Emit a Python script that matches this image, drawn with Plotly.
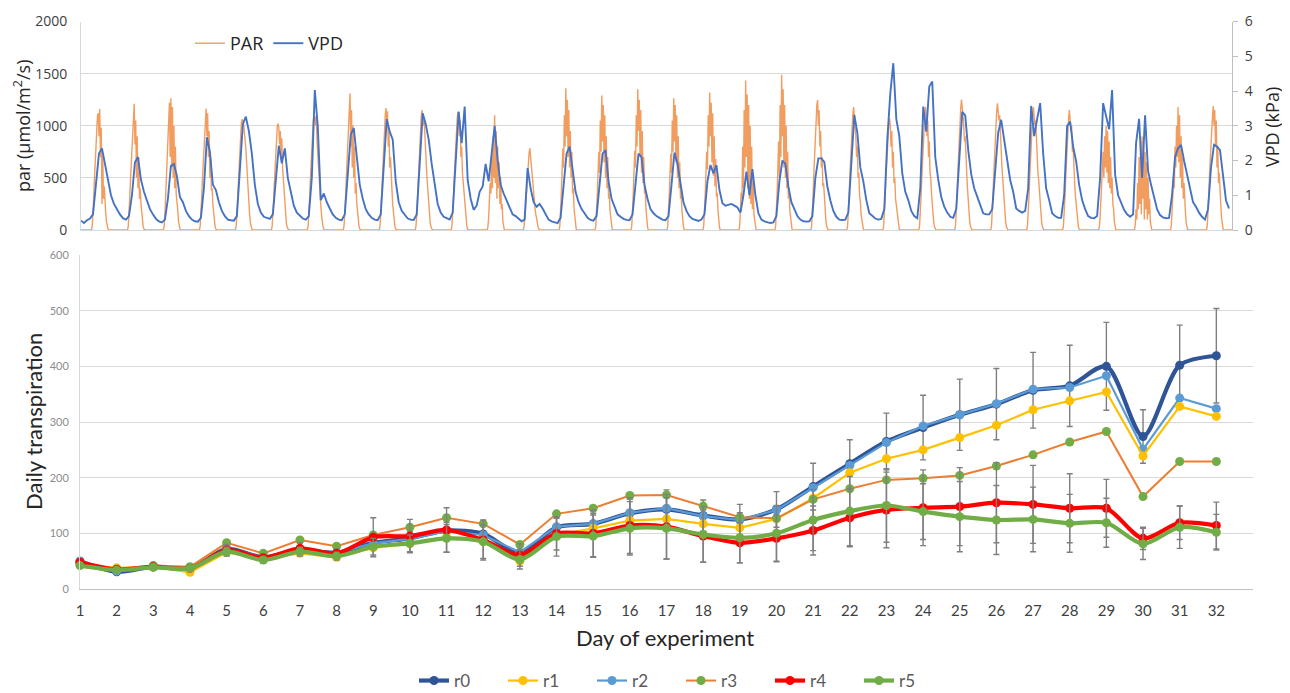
import plotly.graph_objects as go

# page body has an 8px default margin; the figure is sized to fit the 1290x693 window
OFF = 8
W, H = 1290 - OFF, 693 - OFF

# ---------------- bottom panel data ----------------
days = list(range(1, 33))
day_labels = [str(d) for d in days]

r0 = [50, 31, 40, 36, 72, 57, 70, 65, 83, 91, 105, 99, 65, 111, 117, 136, 143, 132, 125, 143,
      184, 225, 265, 290, 313, 332, 357, 365, 400, 274, 402, 419]
r1 = [44, 38, 40, 30, 66, 53, 64, 57, 74, 81, 93, 85, 50, 97, 109, 123, 126, 117, 110, 126,
      163, 209, 234, 250, 272, 294, 322, 338, 354, 239, 328, 310]
r2 = [50, 32, 40, 37, 73, 57, 70, 65, 82, 90, 104, 97, 66, 112, 117, 137, 145, 131, 124, 142,
      182, 222, 263, 293, 313, 333, 359, 362, 383, 251, 343, 324]
r3 = [45, 36, 42, 40, 83, 64, 88, 77, 97, 111, 128, 117, 80, 135, 145, 168, 169, 149, 129, 127,
      161, 180, 196, 199, 204, 221, 241, 264, 283, 166, 229, 229]
r4 = [48, 35, 40, 37, 70, 56, 73, 64, 93, 95, 106, 88, 61, 100, 100, 114, 112, 95, 83, 91,
      105, 128, 142, 146, 148, 155, 152, 145, 145, 91, 119, 114]
r5 = [42, 34, 39, 37, 67, 52, 67, 59, 76, 82, 91, 85, 53, 94, 95, 109, 109, 98, 92, 100,
      124, 140, 150, 139, 130, 124, 125, 118, 119, 81, 111, 102]

r0_err = [6, 4, 4, 4, 8, 6, 8, 7, 12, 12, 15, 16, 10, 16, 19, 25, 35, 28, 27, 32,
          42, 43, 51, 58, 64, 64, 68, 73, 79, 48, 72, 85]
r4_err = [6, 4, 4, 5, 10, 6, 10, 8, 35, 30, 40, 36, 20, 30, 42, 50, 58, 47, 36, 42,
          44, 52, 68, 68, 70, 72, 70, 62, 52, 20, 30, 42]
r5_err = [5, 4, 4, 4, 8, 6, 8, 7, 15, 15, 25, 30, 17, 35, 38, 48, 55, 50, 45, 50,
          55, 62, 66, 50, 63, 62, 58, 52, 44, 28, 38, 32]

# ---------------- top panel data ----------------
# PAR (umol/m2/s), half-hourly from 07:00 to 19:00 for each day (0 at night)
par_hours = [7.0, 7.5, 8.0, 8.5, 9.0, 9.5, 10.0, 10.5, 11.0, 11.5, 12.0, 12.5, 13.0,
             13.5, 14.0, 14.5, 15.0, 15.5, 16.0, 16.5, 17.0, 17.5, 18.0, 18.5, 19.0]
par_by_day = [
    [0, 35, 140, 310, 500, 680, 850, 1000, 1100, 1120, 900, 1160, 700, 980, 250, 720, 300, 420, 230, 160, 80, 35, 10, 0, 0],
    [0, 30, 130, 300, 470, 640, 800, 950, 1080, 1210, 820, 1050, 500, 900, 400, 700, 300, 400, 250, 150, 80, 30, 10, 0, 0],
    [0, 40, 150, 320, 520, 700, 900, 1100, 1220, 700, 1264, 600, 1180, 500, 1000, 400, 800, 350, 300, 200, 90, 40, 10, 0, 0],
    [0, 35, 140, 300, 480, 650, 820, 960, 1080, 1165, 900, 1120, 700, 950, 500, 700, 380, 400, 240, 140, 70, 30, 10, 0, 0],
    [0, 35, 140, 310, 500, 680, 830, 950, 1030, 1060, 1050, 1020, 960, 880, 780, 650, 500, 370, 250, 150, 70, 30, 10, 0, 0],
    [0, 30, 120, 270, 440, 600, 760, 900, 1000, 1020, 980, 820, 950, 700, 880, 600, 480, 350, 230, 140, 70, 30, 10, 0, 0],
    [0, 30, 130, 290, 470, 640, 800, 950, 1050, 1100, 1080, 1000, 1090, 850, 700, 600, 480, 350, 240, 140, 70, 30, 10, 0, 0],
    [0, 40, 150, 330, 530, 720, 900, 1060, 1200, 1310, 800, 1150, 600, 1000, 500, 800, 350, 450, 260, 160, 80, 35, 10, 0, 0],
    [0, 35, 140, 310, 500, 680, 850, 990, 1100, 1170, 1050, 1140, 800, 950, 600, 700, 420, 380, 240, 140, 70, 30, 10, 0, 0],
    [0, 35, 140, 310, 500, 680, 840, 980, 1080, 1150, 1100, 1000, 1050, 850, 700, 600, 470, 350, 240, 140, 70, 30, 10, 0, 0],
    [0, 35, 140, 300, 490, 670, 830, 970, 1070, 1130, 1080, 900, 1050, 700, 800, 550, 450, 330, 230, 130, 70, 30, 10, 0, 0],
    [0, 30, 120, 280, 450, 350, 700, 400, 900, 500, 1100, 450, 950, 300, 800, 400, 650, 250, 500, 200, 250, 80, 30, 0, 0],
    [0, 20, 80, 180, 300, 420, 550, 660, 740, 784, 700, 600, 520, 400, 350, 250, 200, 150, 100, 60, 30, 10, 0, 0, 0],
    [0, 40, 160, 350, 560, 780, 600, 1100, 800, 1360, 900, 1250, 700, 1150, 600, 950, 500, 750, 350, 400, 200, 100, 30, 0, 0],
    [0, 40, 150, 340, 540, 750, 550, 1050, 750, 1290, 850, 1200, 650, 1100, 500, 900, 400, 700, 300, 350, 180, 90, 30, 0, 0],
    [0, 40, 160, 350, 560, 760, 600, 1100, 800, 1350, 950, 1250, 700, 1150, 550, 950, 450, 700, 350, 380, 200, 90, 30, 0, 0],
    [0, 40, 150, 330, 530, 730, 550, 1050, 750, 1264, 850, 1200, 650, 1100, 500, 900, 400, 650, 300, 350, 180, 80, 30, 0, 0],
    [0, 40, 150, 340, 550, 750, 580, 1100, 800, 1318, 900, 1220, 650, 1120, 520, 900, 420, 680, 320, 360, 190, 90, 30, 0, 0],
    [0, 40, 160, 360, 300, 800, 400, 1150, 600, 1434, 700, 1300, 400, 1200, 300, 1000, 250, 800, 200, 500, 150, 100, 30, 0, 0],
    [0, 40, 160, 370, 600, 850, 500, 1200, 700, 1490, 900, 1350, 600, 1200, 500, 1000, 400, 750, 300, 400, 180, 90, 30, 0, 0],
    [0, 40, 150, 340, 550, 750, 900, 1100, 1200, 1248, 1000, 1150, 800, 950, 600, 700, 420, 450, 280, 200, 100, 40, 10, 0, 0],
    [0, 35, 140, 320, 510, 690, 860, 1000, 1110, 1180, 1100, 1000, 900, 700, 800, 500, 550, 330, 280, 150, 80, 30, 10, 0, 0],
    [0, 30, 130, 290, 470, 640, 800, 930, 1030, 1070, 1000, 800, 950, 600, 750, 450, 500, 300, 240, 140, 70, 30, 10, 0, 0],
    [0, 35, 140, 310, 500, 680, 850, 1000, 1100, 1180, 1100, 900, 1050, 700, 850, 550, 500, 350, 240, 140, 70, 30, 10, 0, 0],
    [0, 40, 150, 330, 530, 720, 900, 1050, 1170, 1250, 1200, 1100, 1000, 850, 900, 600, 550, 400, 260, 150, 80, 35, 10, 0, 0],
    [0, 35, 140, 320, 520, 700, 880, 1030, 1140, 1215, 1150, 1050, 1100, 850, 800, 600, 500, 380, 250, 150, 70, 30, 10, 0, 0],
    [0, 35, 140, 310, 500, 690, 860, 1000, 1110, 1180, 1120, 1000, 1050, 800, 750, 550, 480, 350, 240, 140, 70, 30, 10, 0, 0],
    [0, 35, 140, 300, 490, 670, 840, 980, 1080, 1150, 1050, 950, 1000, 750, 800, 500, 450, 330, 230, 130, 70, 30, 10, 0, 0],
    [0, 30, 120, 270, 430, 600, 750, 500, 900, 600, 1000, 550, 950, 450, 850, 400, 700, 350, 500, 250, 200, 80, 30, 0, 0],
    [0, 60, 200, 100, 450, 200, 700, 250, 850, 150, 900, 300, 800, 100, 750, 200, 650, 100, 500, 150, 300, 80, 30, 0, 0],
    [0, 40, 150, 330, 500, 400, 800, 600, 1000, 700, 1180, 650, 1100, 500, 900, 400, 700, 300, 450, 200, 150, 60, 20, 0, 0],
    [0, 40, 150, 330, 530, 720, 880, 1000, 1100, 1190, 1000, 1150, 800, 1050, 600, 800, 450, 550, 300, 250, 120, 50, 15, 0, 0],
]

# VPD (kPa), every two hours (00:00 ... 22:00) for each day
vpd_hours = [0, 2, 4, 6, 8, 10, 12, 14, 16, 18, 20, 22]
vpd_by_day = [
    [0.27, 0.20, 0.28, 0.33, 0.45, 1.30, 2.20, 2.35, 1.90, 1.45, 1.00, 0.75],
    [0.58, 0.45, 0.34, 0.30, 0.40, 1.00, 1.95, 2.10, 1.45, 1.10, 0.85, 0.60],
    [0.45, 0.32, 0.25, 0.22, 0.30, 0.90, 1.85, 1.90, 1.55, 0.95, 0.80, 0.55],
    [0.40, 0.30, 0.25, 0.24, 0.35, 1.20, 2.67, 2.25, 1.30, 1.15, 0.80, 0.55],
    [0.40, 0.30, 0.28, 0.27, 0.40, 1.60, 3.05, 3.26, 2.85, 2.20, 1.30, 0.75],
    [0.50, 0.38, 0.34, 0.32, 0.45, 1.40, 2.43, 1.92, 2.35, 1.50, 1.05, 0.70],
    [0.50, 0.40, 0.33, 0.30, 0.40, 1.50, 4.03, 2.98, 0.86, 1.05, 0.80, 0.62],
    [0.45, 0.35, 0.30, 0.28, 0.45, 1.60, 2.75, 2.93, 2.20, 1.30, 0.90, 0.60],
    [0.45, 0.35, 0.30, 0.28, 0.45, 1.70, 3.19, 2.83, 2.60, 1.40, 0.80, 0.55],
    [0.43, 0.33, 0.30, 0.29, 0.45, 1.80, 3.36, 3.05, 2.60, 1.90, 1.25, 0.75],
    [0.50, 0.38, 0.34, 0.30, 0.50, 1.90, 3.41, 2.50, 3.55, 1.44, 0.90, 0.58],
    [0.70, 1.10, 1.25, 1.90, 1.40, 2.20, 3.00, 2.00, 1.30, 1.05, 0.85, 0.67],
    [0.45, 0.40, 0.32, 0.25, 0.30, 1.78, 1.20, 0.80, 0.67, 0.75, 0.62, 0.45],
    [0.30, 0.25, 0.22, 0.20, 0.35, 1.30, 2.20, 2.40, 1.70, 1.10, 0.80, 0.60],
    [0.48, 0.35, 0.29, 0.27, 0.40, 1.30, 2.20, 2.30, 1.40, 0.90, 0.65, 0.45],
    [0.38, 0.32, 0.29, 0.28, 0.45, 1.40, 2.20, 2.10, 1.30, 0.90, 0.60, 0.48],
    [0.40, 0.35, 0.30, 0.28, 0.40, 1.30, 2.23, 1.90, 1.30, 0.80, 0.55, 0.40],
    [0.32, 0.28, 0.26, 0.30, 0.45, 1.40, 1.87, 1.63, 1.87, 1.15, 0.77, 0.70],
    [0.72, 0.75, 0.70, 0.65, 0.50, 1.00, 1.68, 1.00, 1.75, 1.00, 0.48, 0.30],
    [0.25, 0.22, 0.20, 0.22, 0.40, 1.40, 2.00, 1.90, 1.25, 0.80, 0.58, 0.40],
    [0.30, 0.25, 0.24, 0.25, 0.40, 1.50, 2.06, 2.06, 1.95, 1.25, 0.85, 0.55],
    [0.38, 0.30, 0.29, 0.30, 0.50, 2.00, 3.31, 2.80, 1.80, 1.40, 0.86, 0.48],
    [0.40, 0.33, 0.30, 0.32, 0.60, 2.60, 3.93, 4.80, 3.20, 2.70, 1.63, 1.10],
    [0.86, 0.55, 0.40, 0.34, 1.20, 3.55, 2.83, 4.13, 4.27, 2.10, 1.44, 0.95],
    [0.67, 0.50, 0.38, 0.35, 0.60, 2.20, 3.40, 3.30, 2.30, 1.60, 1.20, 0.96],
    [0.70, 0.48, 0.45, 0.45, 0.60, 1.80, 2.80, 3.17, 2.60, 2.00, 1.44, 1.10],
    [0.62, 0.55, 0.50, 0.55, 1.20, 3.57, 2.70, 3.20, 3.65, 2.20, 1.20, 0.86],
    [0.48, 0.40, 0.35, 0.35, 1.00, 3.00, 3.12, 2.40, 1.98, 1.30, 0.86, 0.60],
    [0.40, 0.35, 0.34, 0.40, 1.50, 3.65, 3.30, 2.90, 4.03, 1.60, 1.00, 0.77],
    [0.58, 0.45, 0.38, 0.45, 2.50, 3.20, 1.50, 3.30, 1.70, 1.30, 0.90, 0.60],
    [0.43, 0.36, 0.34, 0.35, 1.00, 2.10, 2.35, 2.45, 2.00, 1.60, 1.20, 0.80],
    [0.67, 0.50, 0.38, 0.30, 0.60, 1.80, 2.45, 2.40, 2.30, 1.50, 0.85, 0.62],
]

# ---------------- build time series (x in days) ----------------
t_par, v_par = [1.0], [0.0]
for d, vals in zip(days, par_by_day):
    for h, v in zip(par_hours, vals):
        t_par.append(d + h / 24.0)
        v_par.append(v)
t_par.append(33.0)
v_par.append(0.0)

t_vpd, v_vpd = [], []
for d, vals in zip(days, vpd_by_day):
    for h, v in zip(vpd_hours, vals):
        t_vpd.append(d + h / 24.0)
        v_vpd.append(v)


def px(x):
    return (x - OFF) / W


def py(y):
    return 1 - (y - OFF) / H


fig = go.Figure()

# top panel
fig.add_trace(go.Scatter(x=t_par, y=v_par, name="PAR", mode="lines",
                         line=dict(color="#F29D60", width=1.4),
                         xaxis="x", yaxis="y", legend="legend2"))
fig.add_trace(go.Scatter(x=t_vpd, y=v_vpd, name="VPD", mode="lines",
                         line=dict(color="#4472C4", width=1.9),
                         xaxis="x", yaxis="y2", legend="legend2"))

# bottom panel
err_style = dict(type="data", color="#7F7F7F", thickness=1.4, width=3)
series = [
    ("r0", r0, "#2F5597", "#2F5597", 4.2, "spline", r0_err, 1),
    ("r2", r2, "#5B9BD5", "#5B9BD5", 2.2, "linear", None, 3),
    ("r1", r1, "#FFC000", "#FFC000", 2.2, "linear", None, 2),
    ("r3", r3, "#ED7D31", "#70AD47", 2.0, "linear", None, 4),
    ("r4", r4, "#FF0000", "#FF0000", 4.2, "spline", r4_err, 5),
    ("r5", r5, "#70AD47", "#70AD47", 4.2, "spline", r5_err, 6),
]
for name, vals, lc, mc, lw, shape, err, rank in series:
    kw = {}
    if err is not None:
        kw["error_y"] = dict(array=err, **err_style)
    fig.add_trace(go.Scatter(
        x=days, y=vals, name=name, mode="lines+markers",
        line=dict(color=lc, width=lw, shape=shape, smoothing=0.8),
        marker=dict(color=mc, size=9, symbol="circle"),
        xaxis="x2", yaxis="y3", legend="legend", legendrank=rank,
        cliponaxis=False, **kw))

grid = "#D9D9D9"
fig.update_layout(
    width=W, height=H,
    margin=dict(l=0, r=0, t=0, b=0, autoexpand=False),
    paper_bgcolor="white", plot_bgcolor="white",
    font=dict(family="Open Sans, sans-serif", color="#404040"),
    xaxis=dict(domain=[px(81), px(1232)], range=[1, 33], anchor="y",
               showticklabels=False, showgrid=False, zeroline=False,
               showline=True, linecolor=grid, ticks="", automargin=False),
    yaxis=dict(domain=[py(230), py(21.5)], range=[0, 2000], anchor="x",
               tickvals=[0, 500, 1000, 1500, 2000], gridcolor=grid, zeroline=False,
               showline=True, linecolor=grid, ticks="", automargin=False,
               tickfont=dict(size=14, color="#404040"), ticklabelstandoff=10),
    yaxis2=dict(overlaying="y", side="right", anchor="x", range=[0, 6], dtick=1,
                showgrid=False, zeroline=False, showline=True, linecolor="#BFBFBF",
                ticks="outside", ticklen=5, tickcolor="#BFBFBF", automargin=False,
                tickfont=dict(size=14, color="#404040"), ticklabelstandoff=4),
    xaxis2=dict(domain=[px(80), px(1253)], range=[1, 33], anchor="y3",
                tickvals=days, ticktext=day_labels, showgrid=False, zeroline=False,
                showline=True, linecolor="#BFBFBF", ticks="", automargin=False,
                tickfont=dict(family="Lato, sans-serif", size=15, color="#404040"),
                ticklabelstandoff=8),
    yaxis3=dict(domain=[py(589), py(255)], range=[0, 600], dtick=100, anchor="x2",
                gridcolor=grid, zeroline=False, showline=True, linecolor=grid, ticks="",
                automargin=False,
                tickfont=dict(family="Lato, sans-serif", size=11, color="#8C8C8C"),
                ticklabelstandoff=8),
    legend=dict(orientation="h", x=px(414), y=py(681), xanchor="left", yanchor="middle",
                font=dict(family="Lato, sans-serif", size=17, color="#595959"),
                bgcolor="rgba(0,0,0,0)", itemwidth=30,
                entrywidth=44, entrywidthmode="pixels", traceorder="normal"),
    legend2=dict(orientation="h", x=px(190), y=py(25), xanchor="left", yanchor="top",
                 font=dict(family="Open Sans, sans-serif", size=18, color="#262626"),
                 bgcolor="rgba(0,0,0,0)", itemwidth=30),
    showlegend=True,
)

annots = [
    dict(text="par (µmol/m<sup>2</sup>/s)", x=px(22), y=py(126), textangle=-90,
         font=dict(family="Open Sans, sans-serif", size=18, color="#262626")),
    dict(text="VPD (kPa)", x=px(1272), y=py(127), textangle=-90,
         font=dict(family="Open Sans, sans-serif", size=18, color="#262626")),
    dict(text="Daily transpiration", x=px(33), y=py(422), textangle=-90,
         font=dict(family="Lato, sans-serif", size=22, color="#262626")),
    dict(text="Day of experiment", x=px(665), y=py(637),
         font=dict(family="Lato, sans-serif", size=22, color="#262626")),
]
for a in annots:
    fig.add_annotation(xref="paper", yref="paper", showarrow=False,
                       xanchor="center", yanchor="middle", **a)

fig.write_html("out.html")
